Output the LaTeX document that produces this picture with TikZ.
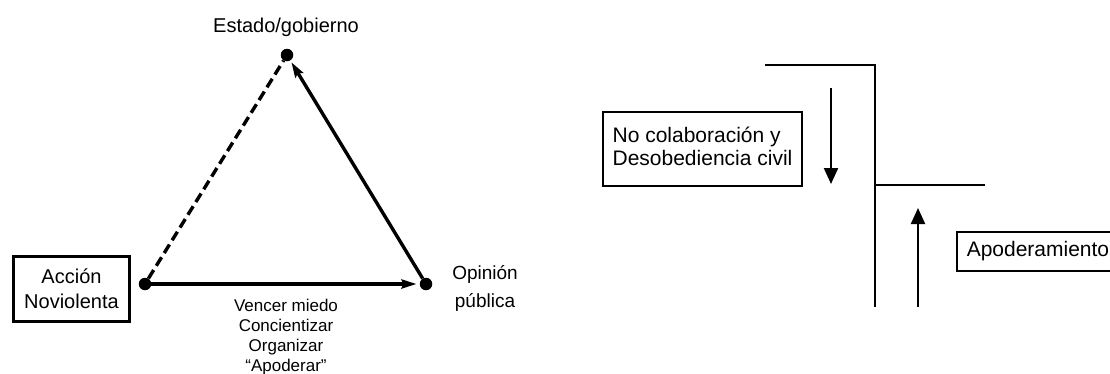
\documentclass[tikz,border=0pt]{standalone}
\usepackage{fontspec}
\setmainfont{Liberation Sans}
\usetikzlibrary{arrows.meta}
\begin{document}
\begin{tikzpicture}[x=1pt,y=-1pt,
  dot/.style={circle,fill=black,inner sep=0pt,minimum size=12.5pt},
  lbl/.style={align=center,inner sep=0pt},
  thickline/.style={line width=3.4pt},
  thinline/.style={line width=2.2pt},
  tri/.style={-{Stealth[length=15pt,width=9pt,inset=2pt]}},
  bigtip/.style={-{Triangle[length=16pt,width=14pt]}},
  boxed/.style={draw,line width=1.5pt,align=left,inner sep=0pt}]
\useasboundingbox (0,0) rectangle (1110,373);
\clip (0,0) rectangle (1110,373);
% left triangle
\node[dot] (E) at (287,55) {};
\node[dot] (A) at (145,284) {};
\node[dot] (O) at (426,284) {};
\node[lbl,font=\fontsize{20}{24}\selectfont] (Et) at (286,27) {Estado/gobierno};
\node[draw,line width=3pt,lbl,font=\fontsize{20}{25}\selectfont,minimum width=116pt,minimum height=65pt] (Ab) at (71.5,289) {Acción\\Noviolenta};
\node[lbl,font=\fontsize{19}{28}\selectfont] (Ot) at (485,288) {Opinión\\pública};
\node[lbl,font=\fontsize{17}{20}\selectfont,anchor=north] (V) at (286,299) {Vencer miedo\\Concientizar\\Organizar\\“Apoderar”};
\draw[thickline,tri,shorten >=3pt] (A) -- (O);
\draw[thickline,tri,shorten >=2pt] (O) -- (E);
\draw[thickline,dash pattern=on 10pt off 5pt] (A) -- (E);
% right part
\coordinate (t1) at (765,65);
\coordinate (t2) at (875,65);
\coordinate (vb) at (875,307);
\coordinate (m1) at (875,185);
\coordinate (m2) at (985,185);
\draw[thinline] (t1) -- (t2) -- (vb);
\draw[thinline] (m1) -- (m2);
\node[boxed,font=\fontsize{21}{23}\selectfont,minimum width=199pt,minimum height=74pt,align=center] (NC) at (702.5,149) {\begin{tabular}{@{}l@{}}No colaboración y\\Desobediencia civil\end{tabular}};
\node[boxed,font=\fontsize{21}{23}\selectfont,anchor=west,inner xsep=10pt,minimum height=39pt] (AP) at (956,251.5) {Apoderamiento};
\coordinate (d1) at (831,88);
\coordinate (d2) at (831,184);
\draw[thinline,bigtip] (d1) -- (d2);
\coordinate (u1) at (918,307);
\coordinate (u2) at (918,208);
\draw[thinline,bigtip] (u1) -- (u2);
\end{tikzpicture}
\end{document}
